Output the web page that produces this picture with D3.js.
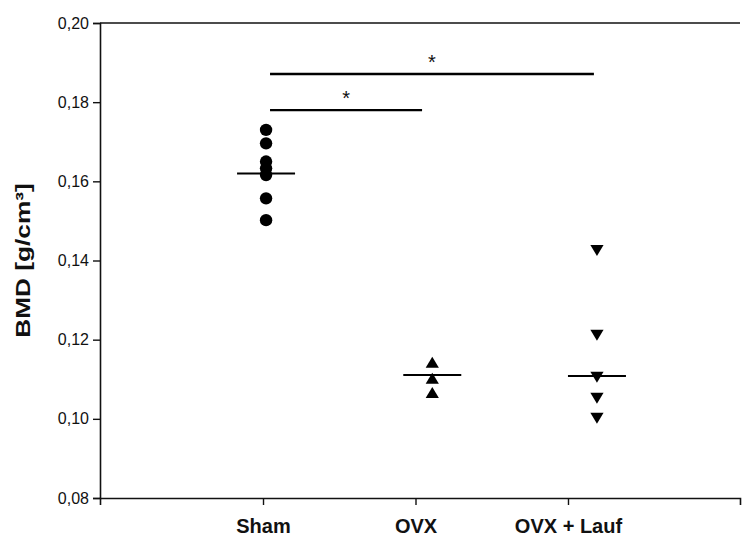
<!DOCTYPE html>
<html>
<head>
<meta charset="utf-8">
<script src="https://cdn.jsdelivr.net/npm/d3@7"></script>
<style>
  html, body { margin: 0; padding: 0; background: #fff; }
  svg { display: block; }
  text { font-family: "Liberation Sans", Arial, sans-serif; fill: #111; }
</style>
</head>
<body>
<svg id="chart" width="753" height="537"></svg>
<script>
// ---- data ----
const categories = ["Sham", "OVX", "OVX + Lauf"];
const tickPos    = [1, 2, 3];            // x position of each category tick
const pointPos   = [1.02, 2.11, 3.19];   // x position of each group's points
const shamValues = [0.1730, 0.1696, 0.1650, 0.1633, 0.1616, 0.1557, 0.1502];
const ovxValues  = [0.1142, 0.1102, 0.1066];
const laufValues = [0.1426, 0.1212, 0.1106, 0.1053, 0.1002];
const centerLines = [0.1620, 0.1111, 0.1108];
const yTicks = [0.08, 0.10, 0.12, 0.14, 0.16, 0.18, 0.20];
const yLabel = "BMD [g/cm³]";
// significance bars (x in axis units, y in data units)
const sigFrom  = [1.046, 1.046];
const sigTo    = [2.043, 3.170];
const sigY     = [0.1780, 0.1871];
const sigLabel = ["*", "*"];

// ---- layout ----
const svg = d3.select("#chart");
const mLeft = 100, mRight = 740, mTop = 23, mBottom = 498;

const x = d3.scaleLinear().domain([-0.069, 4.128]).range([mLeft, mRight]);
const y = d3.scaleLinear().domain([0.08, 0.20]).range([mBottom, mTop]);

const fmt = v => d3.format(".2f")(v).replace(".", ",");

// y axis
const yAxis = svg.append("g").attr("transform", `translate(${mLeft},0)`)
  .call(d3.axisLeft(y).tickValues(yTicks).tickFormat(fmt).tickSizeOuter(0).tickSize(7).tickPadding(4));
yAxis.select(".domain").attr("stroke", "#111").attr("stroke-width", 1.6);
yAxis.selectAll(".tick line").attr("stroke", "#111").attr("stroke-width", 1.4);
yAxis.selectAll(".tick text").style("font-size", "16px").attr("fill", "#111")
  .style("font-family", "'Liberation Sans', Arial, sans-serif");

// x axis
const xAxis = svg.append("g").attr("transform", `translate(0,${mBottom})`)
  .call(d3.axisBottom(x).tickValues(tickPos).tickFormat((d, i) => categories[i])
    .tickSizeOuter(0).tickSize(7).tickPadding(14));
xAxis.select(".domain").attr("stroke", "#111").attr("stroke-width", 1.6);
xAxis.selectAll(".tick line").attr("stroke", "#111").attr("stroke-width", 1.4);
xAxis.selectAll(".tick text").style("font-size", "20px").style("font-weight", "bold").attr("fill", "#111")
  .style("font-family", "'Liberation Sans', Arial, sans-serif");

// top frame line
svg.append("line").attr("x1", mLeft).attr("x2", mRight).attr("y1", y(0.20)).attr("y2", y(0.20))
  .attr("stroke", "#111").attr("stroke-width", 1.6);

// y label
svg.append("text")
  .attr("transform", `translate(23,${(mTop + mBottom) / 2}) rotate(-90) scale(1.25,1)`)
  .attr("text-anchor", "middle").attr("dy", "0.35em")
  .style("font-size", "21px").style("font-weight", "bold")
  .text(yLabel);

// points
svg.append("g").selectAll("circle").data(shamValues).join("circle")
  .attr("cx", x(pointPos[0])).attr("cy", d => y(d)).attr("r", 6.2).attr("fill", "#000");

const upTri = "M0,-5.8 L6.6,5.2 L-6.6,5.2 Z";
const downTri = "M0,5.8 L6.6,-5.2 L-6.6,-5.2 Z";
svg.append("g").selectAll("path").data(ovxValues).join("path")
  .attr("d", upTri).attr("transform", d => `translate(${x(pointPos[1])},${y(d)})`).attr("fill", "#000");
svg.append("g").selectAll("path").data(laufValues).join("path")
  .attr("d", downTri).attr("transform", d => `translate(${x(pointPos[2])},${y(d)})`).attr("fill", "#000");

// center lines
svg.append("g").selectAll("line").data(centerLines).join("line")
  .attr("x1", (d, i) => x(pointPos[i]) - 29).attr("x2", (d, i) => x(pointPos[i]) + 29)
  .attr("y1", d => y(d)).attr("y2", d => y(d))
  .attr("stroke", "#000").attr("stroke-width", 2);

// significance bars
const sig = sigY.map((v, i) => ({ from: sigFrom[i], to: sigTo[i], y: v, label: sigLabel[i] }));
svg.append("g").selectAll("line").data(sig).join("line")
  .attr("x1", d => x(d.from)).attr("x2", d => x(d.to))
  .attr("y1", d => y(d.y)).attr("y2", d => y(d.y))
  .attr("stroke", "#000").attr("stroke-width", 2.4);
svg.append("g").selectAll("text").data(sig).join("text")
  .attr("x", d => (x(d.from) + x(d.to)) / 2).attr("y", d => y(d.y) - 5)
  .attr("text-anchor", "middle").style("font-size", "20px").attr("fill", "#222")
  .text(d => d.label);
</script>
</body>
</html>
